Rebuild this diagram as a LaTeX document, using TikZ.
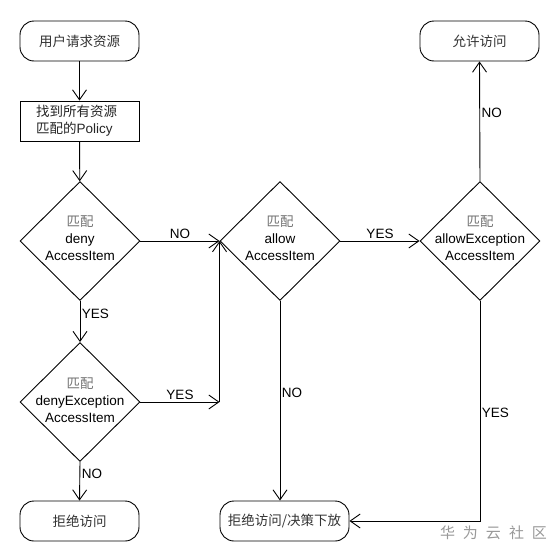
\documentclass[tikz,border=0pt]{standalone}
\usepackage{fontspec}
\setmainfont{Liberation Sans}
\newfontfamily\cjk{Noto Sans CJK SC}
\usetikzlibrary{shapes.geometric,arrows.meta}
\begin{document}
\begin{tikzpicture}[x=1pt,y=-1pt,line width=0.9pt,
  arr/.style={-{Straight Barb[length=10pt,width=14pt]}},
  term/.style={draw,rounded corners=14pt,minimum width=119pt,minimum height=40pt,inner sep=0pt,
    font=\cjk\fontsize{13.5}{17}\selectfont,text=black!80},
  procbox/.style={draw,minimum height=40pt,text width=87pt,inner xsep=16pt,inner ysep=0pt,align=left,
    font=\cjk\fontsize{13.5}{17}\selectfont,text=black!85},
  dia/.style={draw,diamond,shape aspect=1,minimum width=120pt,minimum height=119pt,inner sep=0pt},
  dtext/.style={align=center,inner sep=0pt,font=\fontsize{13.5}{17}\selectfont},
  lbl/.style={inner sep=1.5pt,font=\fontsize{13.5}{16}\selectfont},
  mp/.style={}]
\fill[white] (0,0) rectangle (560,560);
\useasboundingbox (0,0) rectangle (560,560);
% nodes
\node[term] (start) at (79.5,41) {用户请求资源};
\node[procbox] (find) at (79.5,121) {找到所有资源\\匹配的{\rmfamily Policy}};
\node[dia] (d1) at (80,241) {};
\node[dtext] (t1) at ([yshift=3pt]d1.center) {{\cjk\color{black!55}匹配}\\deny\\AccessItem};
\node[dia] (d2) at (280,241) {};
\node[dtext] (t2) at ([yshift=3pt]d2.center) {{\cjk\color{black!55}匹配}\\allow\\AccessItem};
\node[dia] (d3) at (480,241) {};
\node[dtext] (t3) at ([yshift=3pt]d3.center) {{\cjk\color{black!55}匹配}\\allowException\\AccessItem};
\node[dia] (d4) at (80,402) {};
\node[dtext] (t4) at ([yshift=2pt]d4.center) {{\cjk\color{black!55}匹配}\\denyException\\AccessItem};
\node[term] (allow) at (479.5,41) {允许访问};
\node[term] (deny) at (79.5,521) {拒绝访问};
\node[term,minimum width=129pt] (rej2) at (284.5,521) {拒绝访问/决策下放};
\node[inner sep=0pt,font=\cjk\fontsize{15}{15}\selectfont,text=black!40] (wm) at (493.5,533)
  {华\kern8pt 为\kern8pt 云\kern8pt 社\kern8pt 区};
% connectors
\draw[arr] (start) -- (find);
\draw[arr] (find) -- (d1);
\draw[arr] (d1.east) -- node[lbl,above]{NO} (d2.west);
\draw[arr] (d1.south) -- node[lbl,right,pos=0.31]{YES} (d4.north);
\coordinate (j) at (d2.west |- d4.east);
\draw[arr] (d4.east) -- node[lbl,above]{YES} (j);
\draw[arr] (j) -- (d2.west);
\draw[arr] (d4.south) -- node[lbl,right,pos=0.32]{NO} (deny.north);
\draw[arr] (d2.east) -- node[lbl,above]{YES} (d3.west);
\draw[arr] (d3.north) -- node[lbl,right,pos=0.57]{NO} (allow.south);
\draw[arr] (d2.south) -- node[lbl,right,pos=0.46]{NO} (d2.south |- rej2.north);
\coordinate (k) at (d3.south |- rej2.east);
\draw[arr] (d3.south) -- node[lbl,right,pos=0.51]{YES} (k) -- (rej2.east);
\end{tikzpicture}
\end{document}
